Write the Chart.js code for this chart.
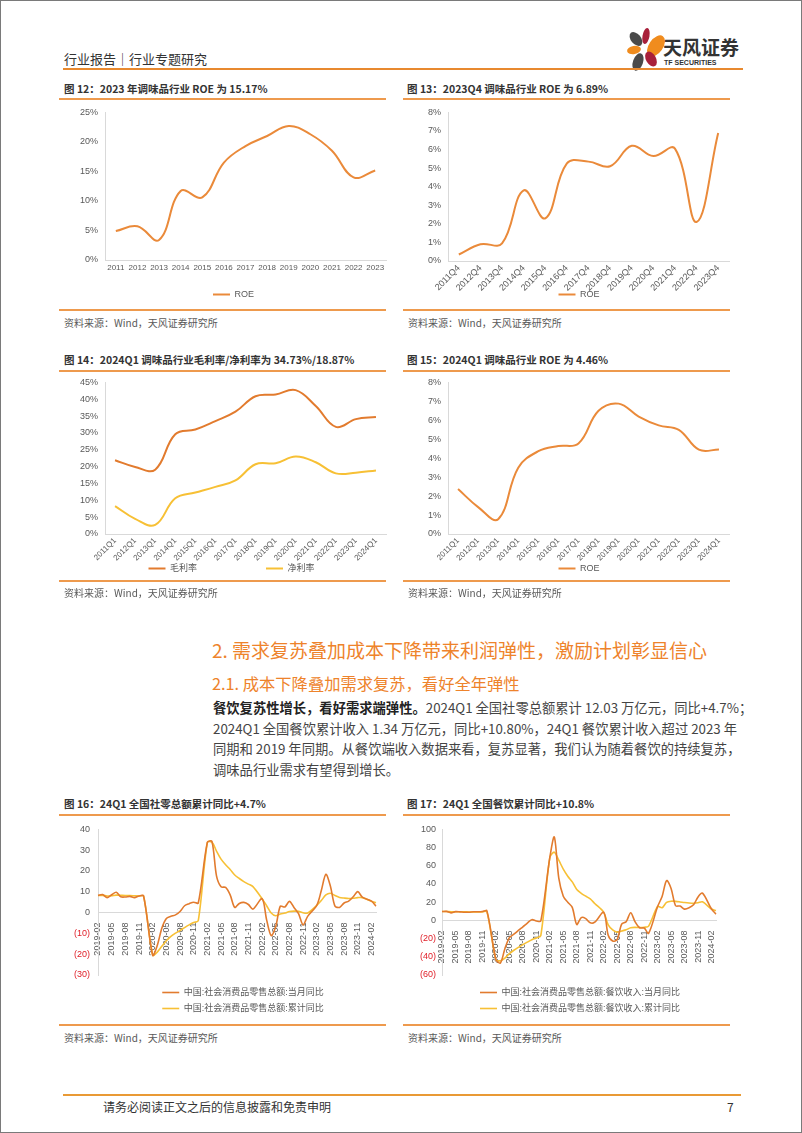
<!doctype html>
<html>
<head>
<meta charset="utf-8">
<title>调味品行业</title>
<script src="https://cdn.jsdelivr.net/npm/chart.js@4.4.1/dist/chart.umd.min.js"></script>
<style>
	html, body { margin: 0; padding: 0; background: #fff; }
	#page {
		position: relative; width: 802px; height: 1133px; box-sizing: border-box;
		border: 1px solid #7a7a7a; overflow: hidden;
		font-family: "Noto Sans CJK SC", "Liberation Sans", sans-serif; color: #333;
	}
	.abs { position: absolute; white-space: nowrap; }
	.hline { position: absolute; height: 2px; background: #ee9a4d; }
	.title { font-size: 10.5px; font-weight: bold; color: #333; }
	.src { font-size: 10px; color: #595959; }
	.holder { position: absolute; }
	.para { position: absolute; left: 212px; width: 524px; font-size: 13.3px; color: #444; }
	.para div { height: 20.5px; line-height: 20.5px; text-align: justify; text-align-last: justify; white-space: nowrap; }
	.para div.last { text-align-last: left; }
	.para b { color: #222; }
</style>
</head>
<body>
<div id="page">
	<!-- header -->
	<div class="abs" style="left:63px; top:48px; font-size:13px; color:#333;">行业报告｜行业专题研究</div>
	<svg class="abs" style="left:620px; top:24px;" width="44" height="48" viewBox="0 0 44 48">
		<ellipse cx="15" cy="14" rx="5" ry="8" transform="rotate(-40 15 14)" fill="#4a4a4a"/>
		<ellipse cx="25" cy="11" rx="3.5" ry="8" transform="rotate(10 25 11)" fill="#a8203a"/>
		<ellipse cx="35" cy="21" rx="7" ry="12" transform="rotate(35 35 21)" fill="#f08c1e"/>
		<ellipse cx="13" cy="25" rx="7" ry="4" transform="rotate(-10 13 25)" fill="#f08c1e"/>
		<ellipse cx="17" cy="37" rx="5" ry="9" transform="rotate(20 17 37)" fill="#4a4a4a"/>
		<ellipse cx="30" cy="34" rx="5" ry="8" transform="rotate(-30 30 34)" fill="#a8203a"/>
	</svg>
	<div class="abs" style="left:662px; top:32px; font-size:19px; font-weight:bold; color:#333;">天风证券</div>
	<div class="abs" style="left:663px; top:58px; font-size:7px; font-weight:bold; color:#333; font-family:'Liberation Sans',sans-serif;">TF SECURITIES</div>
	<div class="hline" style="left:62px; top:67px; width:680px; height:2px; background:#e8892f;"></div>

	<!-- row 1 -->
	<div class="abs title" style="left:63px; top:80px;">图 12：2023 年调味品行业 ROE 为 15.17%</div>
	<div class="abs title" style="left:406px; top:80px;">图 13：2023Q4 调味品行业 ROE 为 6.89%</div>
	<div class="hline" style="left:58px; top:97px; width:327px;"></div>
	<div class="hline" style="left:402px; top:97px; width:327px;"></div>
	<div class="holder" style="left:57px; top:99px; width:333px; height:209px;"><canvas id="c12"></canvas></div>
	<div class="holder" style="left:400px; top:99px; width:333px; height:209px;"><canvas id="c13"></canvas></div>
	<div class="hline" style="left:58px; top:308px; width:327px;"></div>
	<div class="hline" style="left:402px; top:308px; width:327px;"></div>
	<div class="abs src" style="left:63px; top:314px;">资料来源：Wind，天风证券研究所</div>
	<div class="abs src" style="left:407px; top:314px;">资料来源：Wind，天风证券研究所</div>

	<!-- row 2 -->
	<div class="abs title" style="left:63px; top:351px;">图 14：2024Q1 调味品行业毛利率/净利率为 34.73%/18.87%</div>
	<div class="abs title" style="left:406px; top:351px;">图 15：2024Q1 调味品行业 ROE 为 4.46%</div>
	<div class="hline" style="left:58px; top:369px; width:327px;"></div>
	<div class="hline" style="left:402px; top:369px; width:327px;"></div>
	<div class="holder" style="left:57px; top:369px; width:333px; height:213px;"><canvas id="c14"></canvas></div>
	<div class="holder" style="left:400px; top:369px; width:333px; height:213px;"><canvas id="c15"></canvas></div>
	<div class="hline" style="left:58px; top:579px; width:327px;"></div>
	<div class="hline" style="left:402px; top:579px; width:327px;"></div>
	<div class="abs src" style="left:63px; top:584px;">资料来源：Wind，天风证券研究所</div>
	<div class="abs src" style="left:407px; top:584px;">资料来源：Wind，天风证券研究所</div>

	<!-- text section -->
	<div class="abs" style="left:211px; top:635px; font-size:19px; color:#ee832b;">2. 需求复苏叠加成本下降带来利润弹性，激励计划彰显信心</div>
	<div class="abs" style="left:211px; top:670px; font-size:16.3px; color:#ee832b;">2.1. 成本下降叠加需求复苏，看好全年弹性</div>
	<div class="para" style="top:697px;">
		<div><b>餐饮复苏性增长，看好需求端弹性。</b>2024Q1 全国社零总额累计 12.03 万亿元，同比+4.7%；</div>
		<div>2024Q1 全国餐饮累计收入 1.34 万亿元，同比+10.80%，24Q1 餐饮累计收入超过 2023 年</div>
		<div>同期和 2019 年同期。从餐饮端收入数据来看，复苏显著，我们认为随着餐饮的持续复苏，</div>
		<div class="last">调味品行业需求有望得到增长。</div>
	</div>

	<!-- row 3 -->
	<div class="abs title" style="left:63px; top:795px;">图 16：24Q1 全国社零总额累计同比+4.7%</div>
	<div class="abs title" style="left:406px; top:795px;">图 17：24Q1 全国餐饮累计同比+10.8%</div>
	<div class="hline" style="left:58px; top:813px; width:327px;"></div>
	<div class="hline" style="left:402px; top:813px; width:327px;"></div>
	<div class="holder" style="left:57px; top:815px; width:333px; height:205px;"><canvas id="c16"></canvas></div>
	<div class="holder" style="left:400px; top:817px; width:333px; height:203px;"><canvas id="c17"></canvas></div>
	<div class="hline" style="left:58px; top:1023px; width:327px;"></div>
	<div class="hline" style="left:402px; top:1023px; width:327px;"></div>
	<div class="abs src" style="left:63px; top:1029px;">资料来源：Wind，天风证券研究所</div>
	<div class="abs src" style="left:407px; top:1029px;">资料来源：Wind，天风证券研究所</div>

	<!-- footer -->
	<div class="hline" style="left:62px; top:1093px; width:678px; height:2px; background:#e99a35;"></div>
	<div class="abs" style="left:102px; top:1097px; font-size:12px; color:#333;">请务必阅读正文之后的信息披露和免责申明</div>
	<div class="abs" style="left:726px; top:1097px; font-size:12px; color:#333;">7</div>
</div>

<script>
	// ---- data ----
	var years = ['2011', '2012', '2013', '2014', '2015', '2016', '2017', '2018', '2019', '2020', '2021', '2022', '2023'];
	var roeYear = [4.9, 5.7, 3.4, 11.7, 10.6, 16.5, 19.3, 21.0, 22.7, 21.3, 18.5, 14.0, 15.17];

	var q4Labels = ['2011Q4', '2012Q4', '2013Q4', '2014Q4', '2015Q4', '2016Q4', '2017Q4', '2018Q4', '2019Q4', '2020Q4', '2021Q4', '2022Q4', '2023Q4'];
	var roeQ4 = [0.35, 0.9, 0.95, 3.8, 2.3, 5.25, 5.35, 5.1, 6.2, 5.65, 6.05, 2.1, 6.89];

	var q1Labels = ['2011Q1', '2012Q1', '2013Q1', '2014Q1', '2015Q1', '2016Q1', '2017Q1', '2018Q1', '2019Q1', '2020Q1', '2021Q1', '2022Q1', '2023Q1', '2024Q1'];
	var grossMargin = [21.9, 19.9, 19.1, 29.6, 31.0, 33.5, 36.3, 40.9, 41.4, 42.7, 38.0, 31.8, 34.1, 34.73];
	var netMargin = [8.3, 4.5, 2.7, 10.6, 12.3, 14.0, 15.9, 20.7, 21.0, 23.0, 21.3, 18.0, 18.2, 18.87];
	var roeQ1 = [2.37, 1.42, 0.78, 3.5, 4.37, 4.64, 4.78, 6.5, 6.88, 6.2, 5.73, 5.5, 4.45, 4.46];

	var months = [
		'2019-02', '2019-03', '2019-04', '2019-05', '2019-06', '2019-07', '2019-08', '2019-09', '2019-10', '2019-11', '2019-12',
		'2020-01', '2020-02', '2020-03', '2020-04', '2020-05', '2020-06', '2020-07', '2020-08', '2020-09', '2020-10', '2020-11', '2020-12',
		'2021-01', '2021-02', '2021-03', '2021-04', '2021-05', '2021-06', '2021-07', '2021-08', '2021-09', '2021-10', '2021-11', '2021-12',
		'2022-01', '2022-02', '2022-03', '2022-04', '2022-05', '2022-06', '2022-07', '2022-08', '2022-09', '2022-10', '2022-11', '2022-12',
		'2023-01', '2023-02', '2023-03', '2023-04', '2023-05', '2023-06', '2023-07', '2023-08', '2023-09', '2023-10', '2023-11', '2023-12',
		'2024-01', '2024-02', '2024-03'
	];
	// January is not published (Jan-Feb combined), so it stays empty
	var retailMonthly = [
		8.2, 8.7, 7.2, 8.6, 9.8, 7.6, 7.5, 7.8, 7.2, 8.0, 8.0,
		null, -20.5, -15.8, -7.5, -2.8, -1.8, -1.1, 0.5, 3.3, 4.3, 5.0, 4.6,
		null, 33.8, 34.2, 17.7, 12.4, 12.1, 8.5, 2.5, 4.4, 4.9, 3.9, 1.7,
		null, 6.7, -3.5, -11.1, -6.7, 3.1, 2.7, 5.4, 2.5, -0.5, -5.9, -1.8,
		null, 3.5, 10.6, 18.4, 12.7, 3.1, 2.5, 4.6, 5.5, 7.6, 10.1, 7.4,
		null, 5.5, 3.1
	];
	var retailCum = [
		8.2, 8.3, 8.0, 8.1, 8.4, 8.3, 8.2, 8.2, 8.1, 8.0, 8.0,
		null, -20.5, -19.0, -16.2, -13.5, -11.4, -9.9, -8.6, -7.2, -5.9, -4.8, -3.9,
		null, 33.8, 33.9, 29.6, 25.7, 23.0, 20.7, 18.1, 16.4, 14.9, 13.7, 12.5,
		null, 6.7, 3.3, -0.2, -1.5, -0.7, -0.2, 0.5, 0.7, 0.6, -0.1, -0.2,
		null, 3.5, 5.8, 8.5, 9.3, 8.2, 7.3, 7.0, 6.8, 6.9, 7.2, 7.2,
		null, 5.5, 4.7
	];
	var cateringMonthly = [
		9.7, 9.9, 8.3, 9.6, 9.4, 9.0, 9.0, 9.5, 9.5, 9.8, 10.5,
		null, -43.1, -46.8, -31.1, -18.9, -15.2, -11.0, -7.0, -2.9, 0.8, -0.6, -0.6,
		null, 68.9, 91.6, 46.4, 26.6, 20.0, 14.3, -4.5, 3.1, 2.0, -2.7, -2.0,
		null, 8.9, -16.4, -22.7, -21.1, -4.0, -1.5, 8.4, -1.7, -8.1, -8.4, -14.1,
		null, 15.2, 26.3, 43.8, 35.1, 16.1, 15.8, 12.4, 13.8, 17.1, 25.8, 30.0,
		null, 12.5, 6.9
	];
	var cateringCum = [
		9.7, 9.8, 9.5, 9.5, 9.5, 9.4, 9.3, 9.3, 9.3, 9.4, 9.4,
		null, -43.1, -44.3, -41.4, -36.5, -32.8, -29.6, -26.6, -23.9, -21.2, -19.3, -16.6,
		null, 68.9, 75.0, 66.1, 56.4, 48.6, 42.3, 34.0, 29.8, 26.6, 23.6, 18.6,
		null, 8.9, -5.0, -10.4, -12.9, -11.6, -10.3, -8.1, -7.7, -7.8, -7.5, -6.3,
		null, 15.2, 13.9, 19.8, 21.1, 20.9, 20.3, 19.6, 19.1, 18.9, 19.4, 20.4,
		null, 12.5, 10.8
	];

	var ORANGE = '#ea8a3a';
	var DARK = '#e27b2e';
	var YELLOW = '#f7c035';
	var AXIS = '#d9d9d9';
	var TICK = '#595959';
	var FONT = '"Liberation Sans", Arial, "Noto Sans CJK SC", sans-serif';

	Chart.defaults.font.family = FONT;
	Chart.defaults.font.size = 9;
	Chart.defaults.color = TICK;
	Chart.defaults.animation = false;

	// after layout: move the legend a little and let rotated x labels run past the axis box
	var legendNudge = {
		id: 'legendNudge',
		afterLayout: function (chart, args, opts) {
			var lg = chart.legend;
			if (lg) {
				var dx = opts.dx || 0, dy = opts.dy || 0;
				lg.left += dx; lg.right += dx;
				lg.top += dy; lg.bottom += dy;
			}
			if (opts.freeX && chart.scales.x) chart.scales.x.bottom = chart.height;
		}
	};
	Chart.register(legendNudge);

	function line(label, data, color, width, tension) {
		return {
			label: label, data: data, borderColor: color, backgroundColor: color,
			borderWidth: width, pointRadius: 0, tension: tension, spanGaps: true, fill: false
		};
	}

	function legendOpts(padding) {
		return {
			position: 'bottom',
			labels: {
				usePointStyle: true, pointStyle: 'line', pointStyleWidth: 17,
				padding: padding, boxHeight: 8, color: TICK,
				font: { size: 9, family: FONT }
			}
		};
	}

	function pctChart(id, labels, datasets, ymax, step, rotate, xFont, axisH, layoutPad, nudge) {
		nudge.freeX = true;
		new Chart(document.getElementById(id), {
			type: 'line',
			data: { labels: labels, datasets: datasets },
			options: {
				responsive: true, maintainAspectRatio: false,
				layout: { padding: layoutPad },
				plugins: { legend: legendOpts(6), tooltip: { enabled: false }, legendNudge: nudge },
				scales: {
					x: {
						offset: true,
						grid: { display: false, drawTicks: false },
						border: { color: AXIS },
						ticks: {
							autoSkip: false, minRotation: rotate, maxRotation: rotate,
							padding: rotate ? 2 : 3, color: TICK, font: { size: xFont }
						},
						afterFit: function (s) { s.height = axisH; s.paddingLeft = 0; s.paddingRight = 0; }
					},
					y: {
						min: 0, max: ymax,
						grid: { display: false, drawTicks: false },
						border: { color: AXIS },
						ticks: { stepSize: step, padding: 7, color: TICK, callback: function (v) { return v + '%'; } }
					}
				}
			}
		});
	}

	pctChart('c12', years, [line('ROE', roeYear, ORANGE, 2, 0.4)], 25, 5, 0, 8, 24,
		{ left: 15, right: 5, top: 0, bottom: 0 }, { dx: 4 });
	pctChart('c13', q4Labels, [line('ROE', roeQ4, ORANGE, 2, 0.4)], 8, 1, 45, 9, 23,
		{ left: 20, right: 5, top: 0, bottom: 0 }, { dx: 4 });
	pctChart('c14', q1Labels, [
		line('毛利率\u3000\u3000\u3000\u3000\u3000\u3000\u3000', grossMargin, DARK, 2, 0.4),
		line('净利率', netMargin, YELLOW, 2, 0.4)
	], 45, 5, 45, 8, 24, { left: 15, right: 5, top: 0, bottom: 0 }, { dx: 2 });
	pctChart('c15', q1Labels, [line('ROE', roeQ1, ORANGE, 2, 0.4)], 8, 1, 45, 8, 24,
		{ left: 20, right: 5, top: 0, bottom: 0 }, { dx: 4 });

	function yoyChart(id, datasets, ymin, ymax, step, tickPad, layoutPad, nudge) {
		new Chart(document.getElementById(id), {
			type: 'line',
			data: { labels: months, datasets: datasets },
			options: {
				responsive: true, maintainAspectRatio: false,
				layout: { padding: layoutPad },
				plugins: { legend: legendOpts(7), tooltip: { enabled: false }, legendNudge: nudge },
				scales: {
					x: {
						position: { y: 0 },
						offset: false,
						grid: { display: false },
						border: { color: AXIS },
						ticks: {
							autoSkip: false, minRotation: 90, maxRotation: 90, padding: 2, color: TICK,
							callback: function (v, i) { return i % 3 === 0 ? months[i] : ''; }
						},
						afterFit: function (s) { s.paddingLeft = 0; s.paddingRight = 0; }
					},
					y: {
						min: ymin, max: ymax,
						grid: { display: false, drawTicks: false },
						border: { color: AXIS },
						ticks: {
							stepSize: step, padding: tickPad,
							color: function (c) { return c.tick.value < 0 ? '#e0202a' : TICK; },
							callback: function (v) { return v < 0 ? '(' + (-v) + ')' : v; }
						}
					}
				}
			}
		});
	}

	yoyChart('c16', [
		line('中国:社会消费品零售总额:当月同比', retailMonthly, DARK, 1.6, 0.3),
		line('中国:社会消费品零售总额:累计同比', retailCum, YELLOW, 1.6, 0.3)
	], -30, 40, 10, 8, { left: 8, right: 15, top: 0, bottom: 4 }, { dx: 22, dy: 6 });
	yoyChart('c17', [
		line('中国:社会消费品零售总额:餐饮收入:当月同比', cateringMonthly, DARK, 1.6, 0.3),
		line('中国:社会消费品零售总额:餐饮收入:累计同比', cateringCum, YELLOW, 1.6, 0.3)
	], -60, 100, 20, 6, { left: 13, right: 18, top: 4, bottom: 4 }, { dx: 15, dy: 6 });
</script>
</body>
</html>
